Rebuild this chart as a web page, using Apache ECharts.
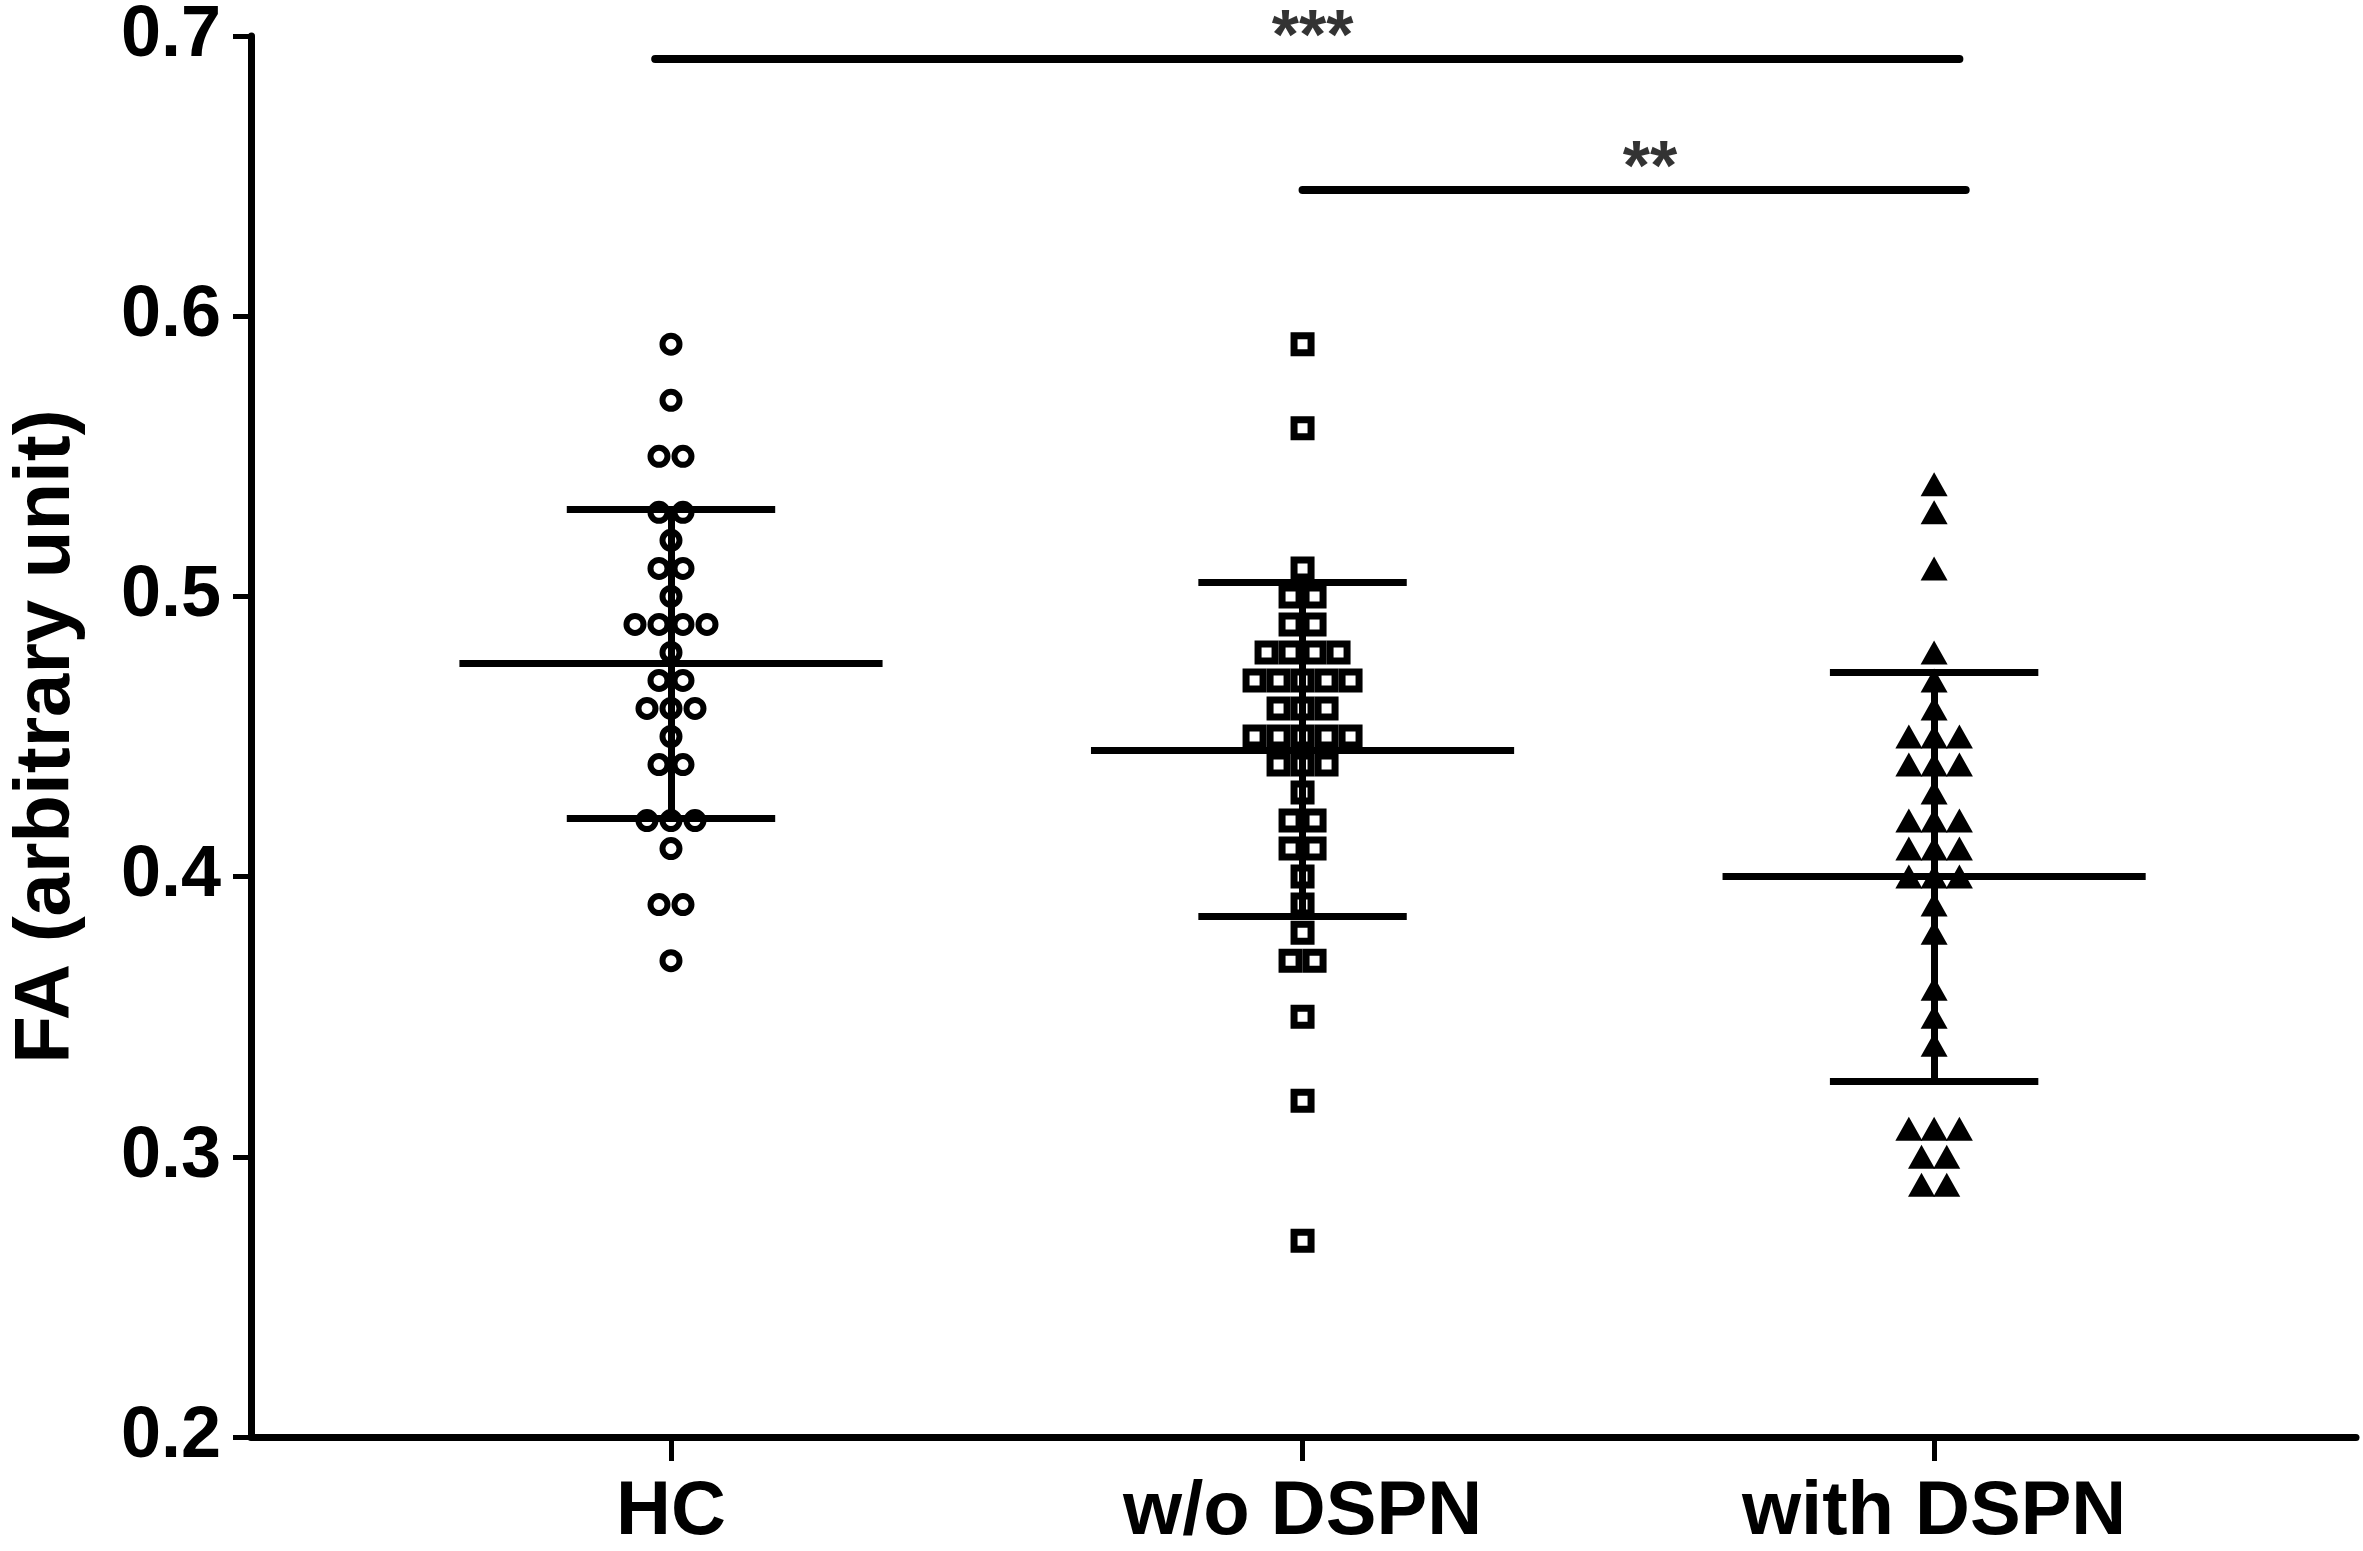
<!DOCTYPE html>
<html>
<head>
<meta charset="utf-8">
<script src="https://cdn.jsdelivr.net/npm/echarts@6/dist/echarts.min.js"></script>
<style>
html, body { margin: 0; padding: 0; background: #fff; }
#main { width: 2363px; height: 1551px; }
</style>
</head>
<body>
<div id="main"></div>
<script>
// group names on the x axis (placed at x = 1, 2, 3)
var groups = ['HC', 'w/o DSPN', 'with DSPN'];

// FA values
var hcValues = [0.59, 0.57, 0.55, 0.55, 0.53, 0.53, 0.52, 0.51, 0.51, 0.50,
    0.49, 0.49, 0.49, 0.49, 0.48, 0.47, 0.47, 0.46, 0.46, 0.46,
    0.45, 0.44, 0.44, 0.42, 0.42, 0.42, 0.41, 0.39, 0.39, 0.37];
var woValues = [0.59, 0.56, 0.51, 0.50, 0.50, 0.49, 0.49, 0.48, 0.48, 0.48, 0.48,
    0.47, 0.47, 0.47, 0.47, 0.47, 0.46, 0.46, 0.46,
    0.45, 0.45, 0.45, 0.45, 0.45, 0.44, 0.44, 0.44, 0.43, 0.42, 0.42,
    0.41, 0.41, 0.40, 0.39, 0.38, 0.37, 0.37, 0.35, 0.32, 0.27];
var withValues = [0.54, 0.53, 0.51, 0.48, 0.47, 0.46, 0.45, 0.45, 0.45,
    0.44, 0.44, 0.44, 0.43, 0.42, 0.42, 0.42, 0.41, 0.41, 0.41,
    0.40, 0.40, 0.40, 0.39, 0.38, 0.36, 0.35, 0.34,
    0.31, 0.31, 0.31, 0.30, 0.30, 0.29, 0.29];

// mean and mean +/- SD lines
var groupMeans = [0.476, 0.445, 0.400];
var sdUpper = [0.531, 0.505, 0.473];
var sdLower = [0.421, 0.386, 0.327];

// significance bars
var sigFrom = [0.975, 2.0];
var sigTo = [3.04, 3.05];
var sigY = [0.692, 0.645];
var sigText = ['***', '**'];
var sigTextX = [2.016, 2.55];

var fontFam = '"Liberation Sans", Arial, Helvetica, sans-serif';

// spread equal values sideways (simple beeswarm)
function swarm(values, center, step) {
    var counts = {};
    values.forEach(function (v) { counts[v] = (counts[v] || 0) + 1; });
    var seen = {};
    return values.map(function (v) {
        var n = counts[v];
        var k = seen[v] || 0;
        seen[v] = k + 1;
        return [center + (k - (n - 1) / 2) * step, v];
    });
}

// error bar segments
var barSegs = [];
for (var i = 0; i < groups.length; i++) {
    var cx = i + 1;
    barSegs.push({coords: [[cx - 0.335, groupMeans[i]], [cx + 0.335, groupMeans[i]]]});
    barSegs.push({coords: [[cx - 0.165, sdUpper[i]], [cx + 0.165, sdUpper[i]]]});
    barSegs.push({coords: [[cx - 0.165, sdLower[i]], [cx + 0.165, sdLower[i]]]});
    barSegs.push({coords: [[cx, sdLower[i]], [cx, sdUpper[i]]]});
}
var sigSegs = [];
for (var j = 0; j < sigY.length; j++) {
    sigSegs.push({coords: [[sigFrom[j], sigY[j]], [sigTo[j], sigY[j]]]});
}

var myChart = echarts.init(document.getElementById('main'));

var option = {
    animation: false,
    backgroundColor: '#fff',
    grid: {left: 246, right: 7, top: 32, bottom: 113},
    xAxis: {
        type: 'value',
        min: 0.335,
        max: 3.668,
        splitLine: {show: false},
        axisLine: {show: true, lineStyle: {color: '#000', width: 7}},
        axisTick: {
            show: true,
            customValues: [1, 2, 3],
            length: 24,
            lineStyle: {color: '#000', width: 5}
        },
        axisLabel: {
            customValues: [1, 2, 3],
            margin: 38,
            color: '#000',
            fontSize: 76,
            fontWeight: 'bold',
            fontFamily: fontFam,
            formatter: function (v) { return groups[Math.round(v) - 1]; }
        }
    },
    yAxis: {
        type: 'value',
        min: 0.2,
        max: 0.7,
        interval: 0.1,
        name: 'FA (arbitrary unit)',
        nameLocation: 'middle',
        nameGap: 165,
        nameTextStyle: {
            color: '#000',
            fontSize: 78,
            fontWeight: 'bold',
            fontFamily: fontFam
        },
        splitLine: {show: false},
        axisLine: {show: true, lineStyle: {color: '#000', width: 7}},
        axisTick: {show: true, length: 18, lineStyle: {color: '#000', width: 5}},
        axisLabel: {
            margin: 30,
            color: '#000',
            fontSize: 72,
            fontWeight: 'bold',
            fontFamily: fontFam,
            formatter: function (v) { return v.toFixed(1); }
        }
    },
    series: [
        {
            name: 'HC',
            type: 'scatter',
            symbol: 'circle',
            symbolSize: 17,
            itemStyle: {color: '#fff', borderColor: '#000', borderWidth: 6, opacity: 1},
            data: swarm(hcValues, 1, 0.038),
            z: 2
        },
        {
            name: 'w/o DSPN',
            type: 'scatter',
            symbol: 'rect',
            symbolSize: 17,
            itemStyle: {color: '#fff', borderColor: '#000', borderWidth: 7, opacity: 1},
            data: swarm(woValues, 2, 0.038),
            z: 2
        },
        {
            name: 'with DSPN',
            type: 'scatter',
            symbol: 'triangle',
            symbolSize: [27, 24],
            itemStyle: {color: '#000', opacity: 1},
            data: swarm(withValues, 3, 0.04),
            z: 2
        },
        {
            type: 'lines',
            coordinateSystem: 'cartesian2d',
            polyline: false,
            silent: true,
            lineStyle: {color: '#000', width: 7, opacity: 1},
            data: barSegs,
            z: 5
        },
        {
            type: 'lines',
            coordinateSystem: 'cartesian2d',
            polyline: false,
            silent: true,
            lineStyle: {color: '#000', width: 8, opacity: 1, cap: 'round'},
            data: sigSegs,
            z: 5
        },
        {
            type: 'scatter',
            silent: true,
            clip: false,
            symbolSize: 0,
            data: sigY.map(function (y, k) { return [sigTextX[k], y]; }),
            label: {
                show: true,
                position: 'top',
                distance: -16,
                color: '#000',
                fontSize: 70,
                fontWeight: 'bold',
                fontFamily: fontFam,
                formatter: function (p) { return sigText[p.dataIndex]; }
            },
            z: 6
        }
    ]
};

myChart.setOption(option);
</script>
</body>
</html>
